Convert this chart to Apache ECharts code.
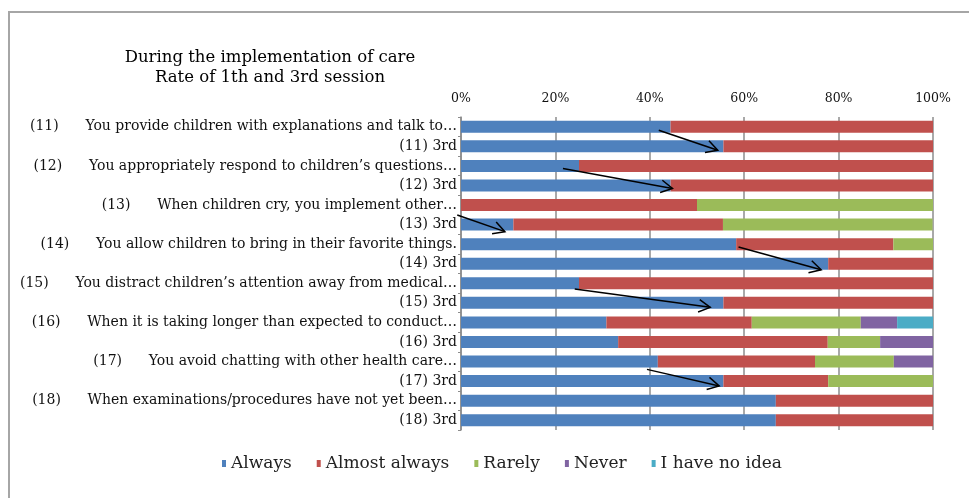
<!DOCTYPE html>
<html>
<head>
<meta charset="utf-8">
<script src="https://cdn.jsdelivr.net/npm/echarts@6/dist/echarts.min.js"></script>
<style>html,body{margin:0;padding:0;background:#fff}#c{width:969px;height:498px}</style>
</head>
<body>
<div id="c"></div>
<script>
const categories = [
  "(11)      You provide children with explanations and talk to\u2026",
  "(11) 3rd",
  "(12)      You appropriately respond to children\u2019s questions\u2026",
  "(12) 3rd",
  "(13)      When children cry, you implement other\u2026",
  "(13) 3rd",
  "(14)      You allow children to bring in their favorite things.",
  "(14) 3rd",
  "(15)      You distract children\u2019s attention away from medical\u2026",
  "(15) 3rd",
  "(16)      When it is taking longer than expected to conduct\u2026",
  "(16) 3rd",
  "(17)      You avoid chatting with other health care\u2026",
  "(17) 3rd",
  "(18)      When examinations/procedures have not yet been\u2026",
  "(18) 3rd"
];
const seriesNames = ["Always", "Almost always", "Rarely", "Never", "I have no idea"];
const always       = [44.4, 55.6, 25.0, 44.4, 0,    11.1, 58.3, 77.8, 25.0, 55.6, 30.8, 33.3, 41.7, 55.6, 66.7, 66.7];
const almostAlways = [55.6, 44.4, 75.0, 55.6, 50.0, 44.4, 33.3, 22.2, 75.0, 44.4, 30.8, 44.4, 33.3, 22.2, 33.3, 33.3];
const rarely       = [0,    0,    0,    0,    50.0, 44.4, 8.4,  0,    0,    0,    23.1, 11.1, 16.7, 22.2, 0,    0];
const never        = [0,    0,    0,    0,    0,    0,    0,    0,    0,    0,    7.7,  11.2, 8.3,  0,    0,    0];
const noIdea       = [0,    0,    0,    0,    0,    0,    0,    0,    0,    0,    7.6,  0,    0,    0,    0,    0];
const xTicks = [0, 20, 40, 60, 80, 100];
// arrows: [x1(%), y1(row index, fractional), x2(%), y2(row index, fractional)]
const arrows = [
  [41.9, 0.18, 54.4, 1.20],
  [21.6, 2.13, 44.8, 3.15],
  [-0.8, 4.51, 9.3, 5.36],
  [58.8, 6.15, 76.3, 7.31],
  [24.1, 8.29, 52.8, 9.23],
  [39.4, 12.40, 54.7, 13.25]
];

const colors = ["#4F81BD", "#C0504D", "#9BBB59", "#8064A2", "#4BACC6"];
const FONT = "DejaVu Serif";
const values = [always, almostAlways, rarely, never, noIdea];

const chart = echarts.init(document.getElementById('c'), null, {renderer: 'canvas'});

function pt(api, x, y) {
  const i = Math.floor(y);
  const f = y - i;
  const p = api.coord([x, i]);
  const band = api.size([0, 1])[1];
  return [p[0], p[1] + f * band];
}

const barSeries = seriesNames.map((n, k) => ({
  name: n,
  type: 'bar',
  stack: 'total',
  barWidth: 12,
  itemStyle: {color: colors[k]},
  emphasis: {disabled: true},
  data: values[k]
}));

chart.setOption({
  animation: false,
  color: colors,
  title: {
    text: 'During the implementation of care\nRate of 1th and 3rd session',
    left: 265,
    top: 43,
    textAlign: 'center',
    textStyle: {fontFamily: FONT, fontSize: 16.5, fontWeight: 'normal', color: '#000', lineHeight: 20}
  },
  graphic: [{
    type: 'polyline',
    shape: {points: [[9, 500], [9, 12], [975, 12]]},
    style: {fill: 'none', stroke: '#a6a6a6', lineWidth: 2},
    silent: true
  }],
  legend: {
    data: seriesNames,
    left: 217,
    top: 450,
    icon: 'rect',
    itemWidth: 4,
    itemHeight: 7,
    itemGap: 25,
    itemTextGap: 5,
    textStyle: {fontFamily: FONT, fontSize: 17, color: '#222'}
  },
  grid: {left: 461, right: 36, top: 117, bottom: 68, containLabel: false},
  xAxis: {
    type: 'value',
    position: 'top',
    min: 0, max: 100, interval: 20,
    axisLine: {show: false},
    axisTick: {show: false},
    axisLabel: {formatter: '{value}%', fontFamily: FONT, fontSize: 12.5, color: '#111', margin: 12},
    splitLine: {show: true, lineStyle: {color: '#8c8c8c', width: 1.5}}
  },
  yAxis: {
    type: 'category',
    inverse: true,
    data: categories,
    axisLine: {show: true, lineStyle: {color: '#8c8c8c', width: 1.5}},
    axisTick: {show: true, length: 3, lineStyle: {color: '#8c8c8c'}},
    axisLabel: {fontFamily: FONT, fontSize: 14, color: '#111', margin: 4}
  },
  series: barSeries.concat([{
    type: 'custom',
    name: 'arrows',
    clip: false,
    silent: true,
    z: 10,
    encode: {x: 0, y: 1},
    data: arrows,
    renderItem: function (params, api) {
      const a = arrows[params.dataIndex];
      const s = pt(api, a[0], a[1]);
      const e = pt(api, a[2], a[3]);
      const ang = Math.atan2(e[1] - s[1], e[0] - s[0]);
      const L = 13, w = 0.5;
      const h1 = [e[0] - L * Math.cos(ang - w), e[1] - L * Math.sin(ang - w)];
      const h2 = [e[0] - L * Math.cos(ang + w), e[1] - L * Math.sin(ang + w)];
      return {
        type: 'group',
        children: [
          {type: 'line', shape: {x1: s[0], y1: s[1], x2: e[0], y2: e[1]}, style: {stroke: '#000', lineWidth: 1.5}},
          {type: 'polyline', shape: {points: [h1, e, h2]}, style: {stroke: '#000', lineWidth: 1.5, fill: 'none'}}
        ]
      };
    }
  }])
});
</script>
</body>
</html>
